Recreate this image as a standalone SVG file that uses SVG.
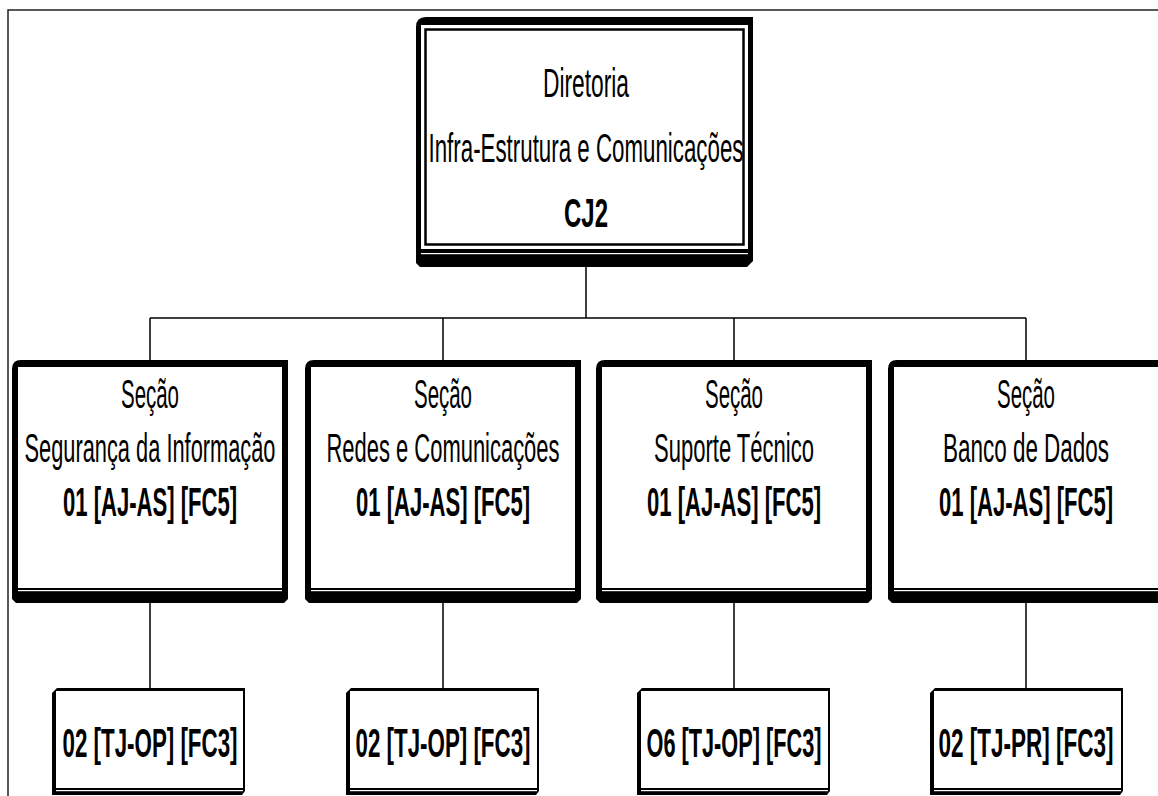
<svg xmlns="http://www.w3.org/2000/svg" xmlns:xlink="http://www.w3.org/1999/xlink" width="1158" height="796" viewBox="0 0 1158 796">
<style>
.t{font-family:"Liberation Sans",Arial,sans-serif;fill:#000;text-anchor:middle}
.r{font-size:40px}
.b{font-size:40px;font-weight:bold}
.c{stroke:#000;stroke-width:1.5;fill:none}
.frame{stroke:#222;stroke-width:1.5;fill:none}
</style>
<defs>
<g id="secBox">
<path d="M0,9 Q0,0 9,0 L276,0 L276,239 L272,243 L4,243 L0,239 Z" fill="#000"/>
<rect x="6" y="7" width="264" height="221" fill="#fff"/>
<rect x="6" y="230" width="264" height="1.2" fill="#fff"/>
</g>
<g id="botBox">
<path d="M0,5 L5,0 L193,0 L193,103 L190,107 L0,107 Z" fill="#000"/>
<rect x="4" y="3" width="187" height="97" fill="#fff"/>
<rect x="4" y="102" width="187" height="1.2" fill="#fff"/>
</g>
</defs>
<rect width="1158" height="796" fill="#fff"/>
<path class="frame" d="M8,796 L8,10 L1158,10"/>

<g id="connectors">
<path class="c" d="M586,267 L586,318 M150,318 L1026,318 M150,318 L150,360 M443,318 L443,360 M734,318 L734,360 M1026,318 L1026,360"/>
<path class="c" d="M150,603 L150,688 M443,603 L443,688 M734,603 L734,688 M1026,603 L1026,688"/>
</g>

<g id="diretoria">
<path d="M416,27 Q416,17 426,17 L753,17 L753,261 L747,267 L420,267 L416,263 Z" fill="#000"/>
<rect x="421" y="25" width="327" height="224" fill="#fff"/>
<rect x="425.5" y="29.5" width="318" height="215" fill="none" stroke="#000" stroke-width="2.5"/>
<rect x="421" y="253" width="327" height="1.2" fill="#fff"/>
<text class="t r" x="586" y="97" textLength="86" lengthAdjust="spacingAndGlyphs">Diretoria</text>
<text class="t r" x="586" y="162" textLength="315" lengthAdjust="spacingAndGlyphs">Infra-Estrutura e Comunicações</text>
<text class="t b" x="586" y="227" textLength="44" lengthAdjust="spacingAndGlyphs">CJ2</text>
</g>

<g id="sec1">
<use xlink:href="#secBox" x="12" y="360"/>
<text class="t r" x="150" y="408" textLength="58" lengthAdjust="spacingAndGlyphs">Seção</text>
<text class="t r" x="150" y="462" textLength="251" lengthAdjust="spacingAndGlyphs">Segurança da Informação</text>
<text class="t b" x="150" y="516" textLength="174" lengthAdjust="spacingAndGlyphs">01 [AJ-AS] [FC5]</text>
</g>
<g id="sec2">
<use xlink:href="#secBox" x="305" y="360"/>
<text class="t r" x="443" y="408" textLength="58" lengthAdjust="spacingAndGlyphs">Seção</text>
<text class="t r" x="443" y="462" textLength="233" lengthAdjust="spacingAndGlyphs">Redes e Comunicações</text>
<text class="t b" x="443" y="516" textLength="174" lengthAdjust="spacingAndGlyphs">01 [AJ-AS] [FC5]</text>
</g>
<g id="sec3">
<use xlink:href="#secBox" x="596" y="360"/>
<text class="t r" x="734" y="408" textLength="58" lengthAdjust="spacingAndGlyphs">Seção</text>
<text class="t r" x="734" y="462" textLength="160" lengthAdjust="spacingAndGlyphs">Suporte Técnico</text>
<text class="t b" x="734" y="516" textLength="174" lengthAdjust="spacingAndGlyphs">01 [AJ-AS] [FC5]</text>
</g>
<g id="sec4">
<use xlink:href="#secBox" x="888" y="360"/>
<text class="t r" x="1026" y="408" textLength="58" lengthAdjust="spacingAndGlyphs">Seção</text>
<text class="t r" x="1026" y="462" textLength="166" lengthAdjust="spacingAndGlyphs">Banco de Dados</text>
<text class="t b" x="1026" y="516" textLength="174" lengthAdjust="spacingAndGlyphs">01 [AJ-AS] [FC5]</text>
</g>

<g id="op1">
<use xlink:href="#botBox" x="52" y="688"/>
<text class="t b" x="150" y="757" textLength="175" lengthAdjust="spacingAndGlyphs">02 [TJ-OP] [FC3]</text>
</g>
<g id="op2">
<use xlink:href="#botBox" x="346" y="688"/>
<text class="t b" x="443" y="757" textLength="175" lengthAdjust="spacingAndGlyphs">02 [TJ-OP] [FC3]</text>
</g>
<g id="op3">
<use xlink:href="#botBox" x="637" y="688"/>
<text class="t b" x="734" y="757" textLength="175" lengthAdjust="spacingAndGlyphs">O6 [TJ-OP] [FC3]</text>
</g>
<g id="op4">
<use xlink:href="#botBox" x="930" y="688"/>
<text class="t b" x="1026" y="757" textLength="175" lengthAdjust="spacingAndGlyphs">02 [TJ-PR] [FC3]</text>
</g>
</svg>
